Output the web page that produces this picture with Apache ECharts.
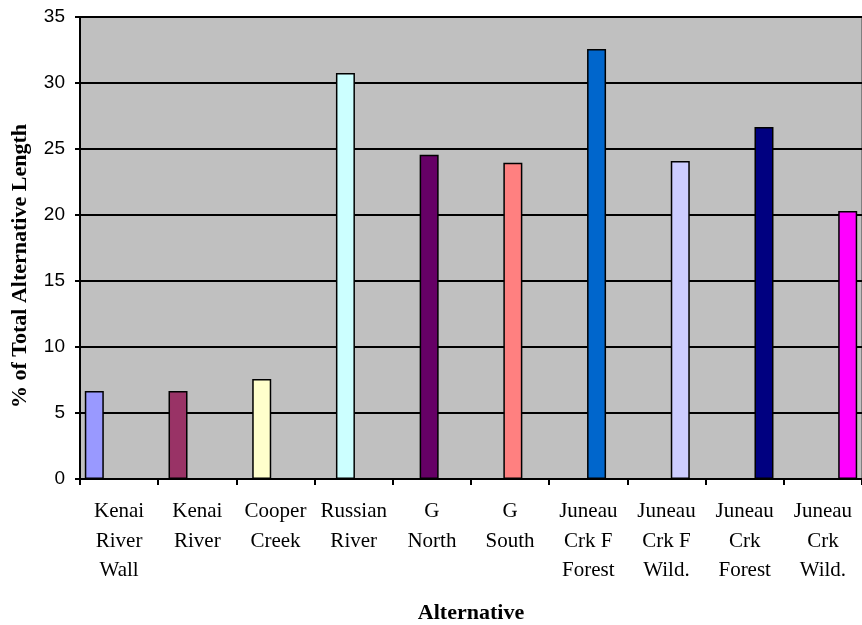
<!DOCTYPE html>
<html>
<head>
<meta charset="utf-8">
<title>% of Total Alternative Length</title>
<script src="https://cdn.jsdelivr.net/npm/echarts@6/dist/echarts.min.js"></script>
<style>
  html, body { margin: 0; padding: 0; background: #ffffff; }
  #chart { width: 862px; height: 625px; }
</style>
</head>
<body>
<div id="chart"></div>
<script>
// Alternatives and their share of total alternative length (%)
const categories = [
  'Kenai River Wall', 'Kenai River', 'Cooper Creek', 'Russian River', 'G North',
  'G South', 'Juneau Crk F Forest', 'Juneau Crk F Wild.', 'Juneau Crk Forest', 'Juneau Crk Wild.'
];
const categoryLabels = [
  'Kenai\nRiver\nWall', 'Kenai\nRiver', 'Cooper\nCreek', 'Russian\nRiver', 'G\nNorth',
  'G\nSouth', 'Juneau\nCrk F\nForest', 'Juneau\nCrk F\nWild.', 'Juneau\nCrk\nForest', 'Juneau\nCrk\nWild.'
];
const percentValues = [6.67, 6.67, 7.58, 30.76, 24.57, 23.96, 32.58, 24.09, 26.67, 20.3];
const barColors = [
  '#9999FF', '#993366', '#FFFFCC', '#CCFFFF', '#660066',
  '#FF8080', '#0066CC', '#CCCCFF', '#000080', '#FF00FF'
];
const yTicks = { min: 0, max: 35, interval: 5 };

// One series per alternative; each holds a value only in its own category,
// so bars sit at staggered positions within the overlapped cluster.
const series = categories.map((name, i) => ({
  name: name,
  type: 'bar',
  barWidth: 19,
  barGap: '-71%',
  data: categories.map((_, j) => (j === i ? percentValues[i] : null)),
  itemStyle: { color: barColors[i], borderColor: '#000000', borderWidth: 1.5 }
}));

const chart = echarts.init(document.getElementById('chart'), null, { renderer: 'canvas' });
chart.setOption({
  animation: false,
  backgroundColor: '#ffffff',
  grid: {
    left: 80, right: 0, top: 17, bottom: 146,
    outerBoundsMode: 'none',
    containLabel: false,
    show: true, backgroundColor: '#C0C0C0', borderColor: '#808080', borderWidth: 2
  },
  xAxis: {
    type: 'category',
    data: categoryLabels,
    name: 'Alternative',
    nameLocation: 'middle',
    nameGap: 123,
    nameTextStyle: { fontFamily: 'Liberation Serif', fontWeight: 'bold', fontSize: 22, color: '#000' },
    axisLine: { lineStyle: { color: '#000', width: 2 } },
    axisTick: { show: true, alignWithLabel: false, length: 6, lineStyle: { color: '#000', width: 2 } },
    axisLabel: {
      interval: 0, margin: 18, color: '#000',
      fontFamily: 'Liberation Serif', fontSize: 21, lineHeight: 29.5
    },
    splitLine: { show: false }
  },
  yAxis: {
    type: 'value',
    min: yTicks.min, max: yTicks.max, interval: yTicks.interval,
    name: '% of Total Alternative Length',
    nameLocation: 'middle',
    nameGap: 49,
    nameRotate: 90,
    nameTextStyle: {
      fontFamily: 'Liberation Serif', fontWeight: 'bold', fontSize: 22, color: '#000',
      padding: [0, 36, 0, 0]
    },
    axisLine: { show: true, lineStyle: { color: '#000', width: 2 } },
    axisTick: { show: true, length: 5, lineStyle: { color: '#000', width: 2 } },
    axisLabel: { margin: 15, color: '#000', fontFamily: 'Liberation Sans', fontSize: 19 },
    splitLine: { show: true, lineStyle: { color: '#000', width: 2 } }
  },
  legend: { show: false },
  tooltip: { show: false },
  series: series
});
</script>
</body>
</html>
